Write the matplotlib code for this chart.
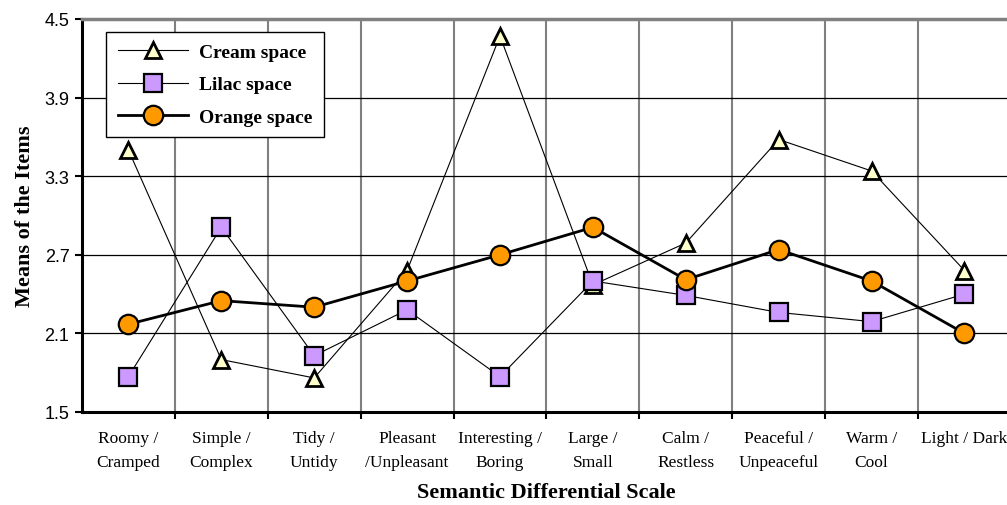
import numpy as np
import matplotlib.pyplot as plt
from matplotlib.ticker import FixedLocator

# Data
categories = ["Roomy /\nCramped", "Simple /\nComplex", "Tidy /\nUntidy",
              "Pleasant\n/Unpleasant", "Interesting /\nBoring", "Large /\nSmall",
              "Calm /\nRestless", "Peaceful /\nUnpeaceful", "Warm /\nCool",
              "Light / Dark"]
cream = [3.50, 1.90, 1.76, 2.58, 4.37, 2.47, 2.79, 3.58, 3.34, 2.58]
lilac = [1.77, 2.91, 1.93, 2.28, 1.77, 2.50, 2.39, 2.26, 2.19, 2.40]
orange = [2.17, 2.35, 2.30, 2.50, 2.70, 2.91, 2.51, 2.74, 2.50, 2.10]
yticks = [1.5, 2.1, 2.7, 3.3, 3.9, 4.5]

serif = "Liberation Serif"
sans = "Liberation Sans"

fig = plt.figure(figsize=(10.07, 5.06), dpi=100)
ax = fig.add_axes([0.0814, 0.1838, 0.9225, 0.7767])

x = np.arange(len(categories))

ax.plot(x, cream, color="black", lw=0.8, marker="^", ms=11,
        mfc="#FFFFCC", mec="black", mew=2, label="Cream space", zorder=4)
ax.plot(x, lilac, color="black", lw=0.8, marker="s", ms=13,
        mfc="#CC99FF", mec="black", mew=1.6, label="Lilac space", zorder=4)
ax.plot(x, orange, color="black", lw=2.0, marker="o", ms=14,
        mfc="#FF9900", mec="black", mew=1.6, label="Orange space", zorder=5)

ax.set_xlim(-0.5, len(categories) - 0.5)
ax.set_ylim(1.5, 4.5)

# y axis
ax.set_yticks(yticks)
ax.set_yticklabels([f"{v:.1f}" for v in yticks], fontfamily=sans, fontsize=13)
ax.yaxis.grid(True, color="black", lw=0.9)
ax.tick_params(axis="y", direction="out", length=5, width=1.5, pad=4)

# x axis: labels at centres, ticks and grid at category boundaries
ax.set_xticks(x)
ax.set_xticklabels(categories, fontfamily=serif, fontsize=12.5, linespacing=1.7)
ax.tick_params(axis="x", which="major", length=0, pad=13)
ax.xaxis.set_minor_locator(FixedLocator(np.arange(0.5, len(categories) - 0.5, 1)))
ax.tick_params(axis="x", which="minor", direction="out", length=5, width=1.5)
ax.xaxis.grid(True, which="minor", color="#808080", lw=1.5)
ax.set_axisbelow(True)

for s in ["left", "bottom"]:
    ax.spines[s].set_linewidth(2.2)
    ax.spines[s].set_color("black")
ax.spines["top"].set_color("#808080")
ax.spines["top"].set_linewidth(2.5)
ax.spines["right"].set_visible(False)

ax.set_xlabel("Semantic Differential Scale", fontfamily=serif, fontweight="bold",
              fontsize=16, labelpad=8)
ax.set_ylabel("Means of the Items", fontfamily=serif, fontweight="bold",
              fontsize=16, labelpad=7)

leg = ax.legend(loc="upper left", bbox_to_anchor=(0.026, 0.967), frameon=True,
                fancybox=False, edgecolor="black", framealpha=1,
                prop={"family": serif, "weight": "bold", "size": 14},
                handlelength=3.6, borderpad=0.6, labelspacing=0.75,
                handletextpad=0.6, borderaxespad=0)
leg.get_frame().set_linewidth(1.0)

fig.savefig("out.png", dpi=100)
